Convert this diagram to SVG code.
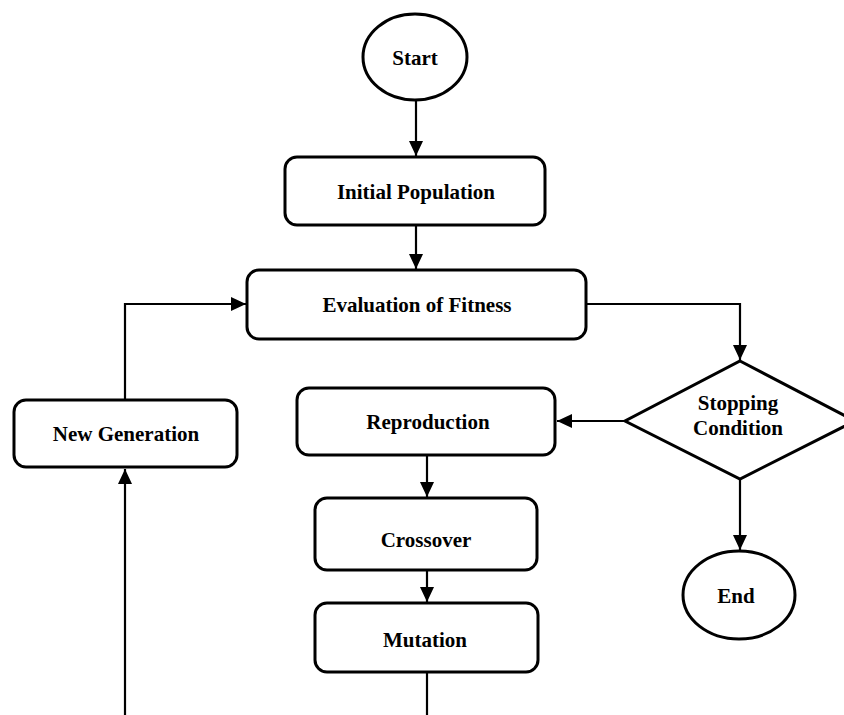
<svg xmlns="http://www.w3.org/2000/svg" width="844" height="715" viewBox="0 0 844 715">
  <style>
    .shape { fill: #ffffff; stroke: #000000; stroke-width: 3; }
    .label { font-family: "Liberation Serif", "Times New Roman", serif; font-weight: bold; font-size: 21px; fill: #000000; text-anchor: middle; }
    .wire { fill: none; stroke: #000000; stroke-width: 2.2; }
  </style>
  <defs>
    <marker id="arrow" markerUnits="userSpaceOnUse" markerWidth="16" markerHeight="14" refX="15" refY="7" orient="auto">
      <path d="M0,0 L15,7 L0,14 z" fill="#000000"/>
    </marker>
  </defs>
  <rect width="844" height="715" fill="#ffffff"/>

  <!-- connectors -->
  <g id="connectors">
    <path class="wire" d="M416,100 V156" marker-end="url(#arrow)"/>
    <path class="wire" d="M416,225 V269" marker-end="url(#arrow)"/>
    <path class="wire" d="M586,304 H740 V360" marker-end="url(#arrow)"/>
    <path class="wire" d="M625,421 H557" marker-end="url(#arrow)"/>
    <path class="wire" d="M740,479 V550" marker-end="url(#arrow)"/>
    <path class="wire" d="M427,455 V497" marker-end="url(#arrow)"/>
    <path class="wire" d="M427,570 V602" marker-end="url(#arrow)"/>
    <path class="wire" d="M427,672 V715"/>
    <path class="wire" d="M125,715 V469" marker-end="url(#arrow)"/>
    <path class="wire" d="M125,400 V304 H246" marker-end="url(#arrow)"/>
  </g>

  <!-- nodes -->
  <g id="start">
    <ellipse class="shape" cx="415" cy="57" rx="52" ry="43"/>
    <text class="label" x="415" y="65">Start</text>
  </g>
  <g id="initial-population">
    <rect class="shape" x="285" y="157" width="260" height="68" rx="12"/>
    <text class="label" x="416" y="199">Initial Population</text>
  </g>
  <g id="evaluation">
    <rect class="shape" x="247" y="270" width="339" height="69" rx="12"/>
    <text class="label" x="417" y="312">Evaluation of Fitness</text>
  </g>
  <g id="stopping-condition">
    <polygon class="shape" points="740,361 855,421 740,479 625,421"/>
    <text class="label" x="738" y="410">Stopping</text>
    <text class="label" x="738" y="435">Condition</text>
  </g>
  <g id="end">
    <ellipse class="shape" cx="739" cy="595" rx="56" ry="44"/>
    <text class="label" x="736" y="603">End</text>
  </g>
  <g id="new-generation">
    <rect class="shape" x="14" y="400" width="223" height="67" rx="12"/>
    <text class="label" x="126" y="441">New Generation</text>
  </g>
  <g id="reproduction">
    <rect class="shape" x="297" y="388" width="258" height="67" rx="12"/>
    <text class="label" x="428" y="429">Reproduction</text>
  </g>
  <g id="crossover">
    <rect class="shape" x="315" y="498" width="222" height="72" rx="12"/>
    <text class="label" x="426" y="547">Crossover</text>
  </g>
  <g id="mutation">
    <rect class="shape" x="315" y="603" width="223" height="69" rx="12"/>
    <text class="label" x="425" y="647">Mutation</text>
  </g>
</svg>
